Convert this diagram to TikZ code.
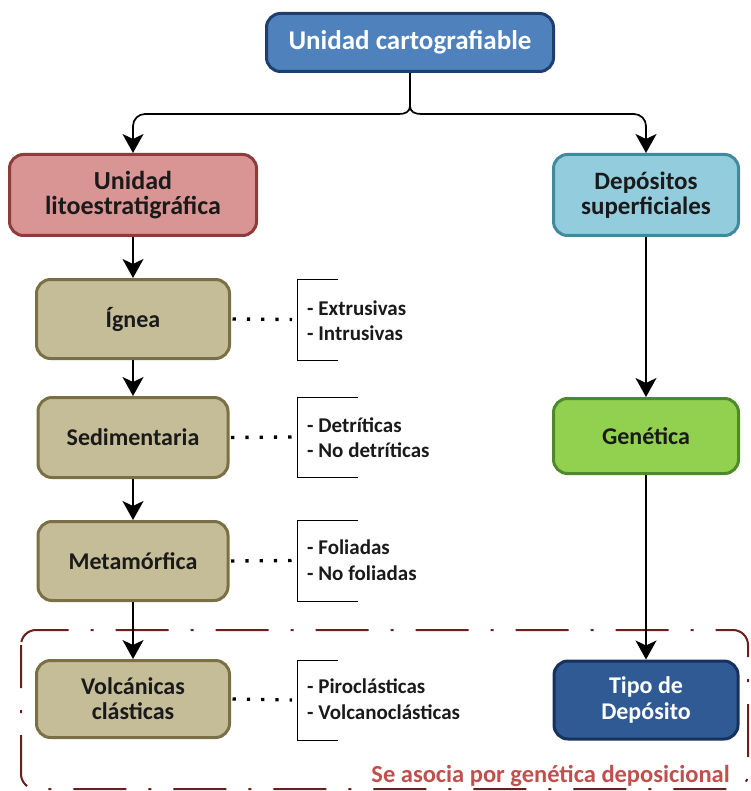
\documentclass[tikz,border=0pt]{standalone}
\usepackage{fontspec}
\setmainfont{Carlito}
\usetikzlibrary{arrows.meta}
\definecolor{topfill}{HTML}{4F81BD}
\definecolor{topdraw}{HTML}{1D3F6E}
\definecolor{litofill}{HTML}{D99594}
\definecolor{litodraw}{HTML}{8E3B3B}
\definecolor{depfill}{HTML}{93CDDD}
\definecolor{depdraw}{HTML}{3F8A9C}
\definecolor{tanfill}{HTML}{C4BD97}
\definecolor{tandraw}{HTML}{7A6F45}
\definecolor{genfill}{HTML}{92D050}
\definecolor{gendraw}{HTML}{4E8A2A}
\definecolor{tipofill}{HTML}{2F5A94}
\definecolor{tipodraw}{HTML}{16325C}
\definecolor{txt}{HTML}{1A1A1A}
\definecolor{framecol}{HTML}{6B1E1E}
\definecolor{labelcol}{HTML}{C0504D}
\tikzset{
  box/.style={draw, line width=3pt, rounded corners=14pt, align=center,
    font=\bfseries\fontsize{24}{25}\selectfont, text=txt, inner sep=0pt},
  tanbox/.style={box, fill=tanfill, draw=tandraw, minimum width=193pt, minimum height=78pt},
  plain/.style={line width=1.7pt, draw=black},
  conn/.style={plain, -{Stealth[width=21pt,length=19pt,inset=5pt]}},
  dots/.style={line width=3.3pt, dash pattern=on 3.3pt off 11pt},
  bracket/.style={line width=0.9pt},
  item/.style={anchor=base west, inner sep=0pt, font=\bfseries\fontsize{21}{23}\selectfont, text=txt},
  frame/.style={draw=framecol, line width=2pt, rounded corners=15pt,
    dash pattern=on 53pt off 22pt on 3pt off 22pt, dash phase=10pt}
}
\begin{document}
\begin{tikzpicture}[x=1pt,y=-1pt]
\useasboundingbox (0,0) rectangle (750,791);

% dash-dot frame
\draw[frame] (21,630) rectangle (748,789);

% nodes
\node[box, fill=topfill, draw=topdraw, text=white, minimum width=287pt, minimum height=58pt,
  font=\bfseries\fontsize{27}{29}\selectfont] (top) at (410,42.5) {Unidad cartografiable};
\node[box, fill=litofill, draw=litodraw, minimum width=247pt, minimum height=81pt,
  font=\bfseries\fontsize{26}{25}\selectfont] (lito) at (133,195) {Unidad\\litoestratigráfica};
\node[box, fill=depfill, draw=depdraw, minimum width=185pt, minimum height=81pt,
  font=\bfseries\fontsize{25}{25}\selectfont] (dep) at (646,195) {Depósitos\\superficiales};
\node[tanbox, minimum height=79pt] (ign) at (133,319) {Ígnea};
\node[tanbox, minimum width=190pt, minimum height=80pt] (sed) at (133,437.5) {Sedimentaria};
\node[tanbox, minimum width=190pt, minimum height=79pt] (met) at (133,561) {Metamórfica};
\node[tanbox, minimum height=77pt] (vol) at (133,699) {Volcánicas\\clásticas};
\node[box, fill=genfill, draw=gendraw, minimum width=185pt, minimum height=75pt] (gen) at (646,436) {Genética};
\node[box, fill=tipofill, draw=tipodraw, text=white, minimum width=184pt, minimum height=78pt,
  font=\bfseries\fontsize{24}{26}\selectfont] (tipo) at (646,700) {Tipo de\\Depósito};

% top split connector
\coordinate (brace) at (410,106);
\coordinate (bl) at (399,114);
\coordinate (br) at (421,114);
\draw[plain] (top.south) -- (brace);
\draw[plain] (brace) .. controls (410,112) and (405,114) .. (bl);
\draw[plain] (brace) .. controls (410,112) and (415,114) .. (br);
\draw[conn, rounded corners=12pt] (bl) -| (lito.north);
\draw[conn, rounded corners=12pt] (br) -| (dep.north);

% vertical connectors
\draw[conn] (lito.south) -- (ign.north);
\draw[conn] (ign.south) -- (sed.north);
\draw[conn] (sed.south) -- (met.north);
\draw[conn] (met.south) -- (vol.north);
\draw[conn] (dep.south) -- (gen.north);
\draw[conn] (gen.south) -- (tipo.north);

% brackets and lists
\foreach \n/\yt/\yb/\xr/\ya/\yc/\ta/\tb in {
  ign/279/360/338/315/340/{- Extrusivas}/{- Intrusivas},
  sed/397/477/358/432/457/{- Detríticas}/{- No detríticas},
  met/520/601/358/554/580/{- Foliadas}/{- No foliadas},
  vol/660/740/338/693/719/{- Piroclásticas}/{- Volcanoclásticas}}{
  \coordinate (\n-b) at (292,{(\yt+\yb)/2});
  \draw[bracket] (\xr,\yt) -- (297,\yt) -- (297,\yb) -- (\xr,\yb);
  \draw[dots] ([xshift=1.5pt]\n.east) -- (\n-b);
  \node[item] (\n-t1) at (307,\ya) {\ta};
  \node[item] (\n-t2) at (307,\yc) {\tb};
}

% label
\node[anchor=base east, inner sep=0pt, text=labelcol, font=\bfseries\fontsize{24.5}{26}\selectfont]
  (lbl) at (730,782) {Se asocia por genética deposicional};
\end{tikzpicture}
\end{document}
